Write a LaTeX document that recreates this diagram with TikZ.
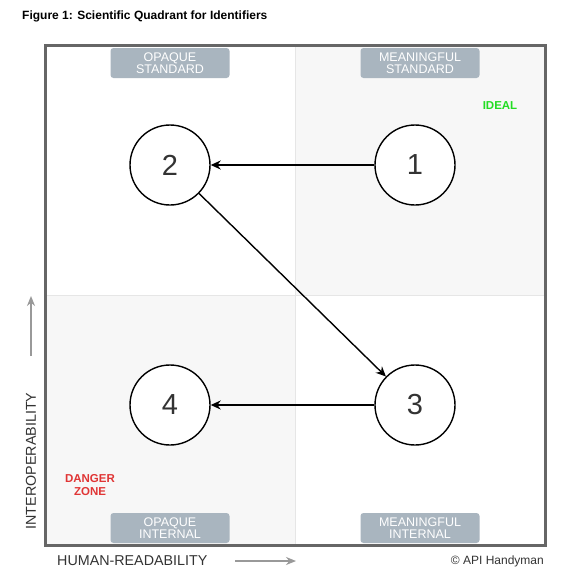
\documentclass[tikz,border=0pt]{standalone}
\usepackage{fontspec}
\setmainfont{Liberation Sans}
\usetikzlibrary{arrows.meta}
\definecolor{frame}{HTML}{666666}
\definecolor{quad}{HTML}{F7F7F7}
\definecolor{divline}{HTML}{E6E6E6}
\definecolor{tagfill}{HTML}{A9B5BF}
\definecolor{ideal}{HTML}{22DD22}
\definecolor{danger}{HTML}{E03535}
\definecolor{axisgray}{HTML}{999999}
\definecolor{txt}{HTML}{333333}
\tikzset{
  x=1pt,y=-1pt,
  num/.style={circle,draw=black,line width=1.4pt,minimum size=80pt,inner sep=0pt,font=\fontsize{29}{30}\selectfont,text=txt,fill=white},
  tag/.style={rounded corners=3pt,fill=tagfill,text=white,minimum width=119pt,minimum height=30pt,inner sep=0pt,align=center,font=\fontsize{12.5}{12.5}\selectfont},
  flow/.style={-{Stealth[length=10pt,width=9pt]},line width=1.4pt},
  axarrow/.style={-{Stealth[length=10pt,width=8pt]},line width=1.4pt,draw=axisgray},
  axlabel/.style={font=\fontsize{14.3}{15}\selectfont,text=txt,inner sep=0pt}
}
\begin{document}
\begin{tikzpicture}
\useasboundingbox (0,0) rectangle (581,581);
\fill[white] (0,0) rectangle (581,581);
% quadrant backgrounds
\fill[quad] (295,45) rectangle (545,295);
\fill[quad] (45,295) rectangle (295,545);
\draw[divline,line width=0.8pt] (295,45) -- (295,545);
\draw[divline,line width=0.8pt] (45,295) -- (545,295);
\draw[frame,line width=3pt] (45,45) rectangle (545,545);
% title
\node[anchor=west,font=\bfseries\fontsize{12}{13}\selectfont,inner sep=0pt] (title) at (22,16) {Figure 1: Scientific Quadrant for Identifiers};
% tags
\node[tag] (ost) at (170,63) {OPAQUE\\STANDARD};
\node[tag] (mst) at (420,63) {MEANINGFUL\\STANDARD};
\node[tag] (oin) at (170,528) {OPAQUE\\INTERNAL};
\node[tag] (min) at (420,528) {MEANINGFUL\\INTERNAL};
% zone labels
\node[font=\bfseries\fontsize{11.5}{13}\selectfont,text=ideal,inner sep=0pt] (ideal) at (500,106) {IDEAL};
\node[font=\bfseries\fontsize{11.5}{13.5}\selectfont,text=danger,align=center,inner sep=0pt] (danger) at (90,485) {DANGER\\ZONE};
% circles
\node[num] (n1) at (415,165) {1};
\node[num] (n2) at (170,165) {2};
\node[num] (n3) at (415,405) {3};
\node[num] (n4) at (170,405) {4};
\draw[flow] (n1) -- (n2);
\draw[flow] (n2) -- (n3);
\draw[flow] (n3) -- (n4);
% axes
\node[axlabel,rotate=90] (ylab) at (31,461) {INTEROPERABILITY};
\coordinate (ya) at (31,356);
\coordinate (yb) at (31,296);
\draw[axarrow] (ya) -- (yb);
\node[axlabel,anchor=west] (xlab) at (57,561) {HUMAN-READABILITY};
\coordinate (xa) at (235,561);
\coordinate (xb) at (296,561);
\draw[axarrow] (xa) -- (xb);
\node[anchor=east,font=\fontsize{12}{13}\selectfont,text=txt,inner sep=0pt] (copy) at (544,561) {© API Handyman};
\end{tikzpicture}
\end{document}
